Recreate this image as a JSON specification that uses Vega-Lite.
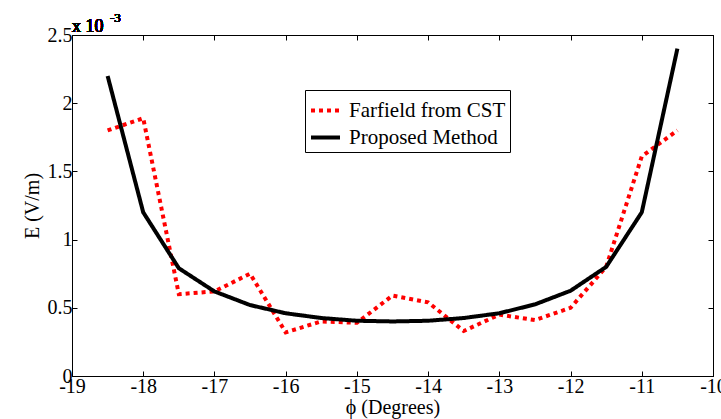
{
  "$schema": "https://vega.github.io/schema/vega-lite/v6.json",
  "width": 641,
  "height": 341,
  "autosize": "none",
  "padding": {"left": 72, "top": 35, "right": 8, "bottom": 43},
  "background": "white",
  "config": {
    "view": {"stroke": "black", "strokeWidth": 1},
    "font": "Liberation Serif",
    "axis": {
      "labelFont": "Liberation Serif",
      "titleFont": "Liberation Serif",
      "labelFontSize": 20,
      "titleFontSize": 20,
      "labelColor": "black",
      "titleColor": "black",
      "titleFontWeight": "normal",
      "domainColor": "black",
      "tickColor": "black",
      "grid": false,
      "tickSize": -5
    }
  },
  "data": {
    "values": [
      {"phi": -18.5, "E": 1.80, "series": "Farfield from CST"},
      {"phi": -18.0, "E": 1.89, "series": "Farfield from CST"},
      {"phi": -17.5, "E": 0.60, "series": "Farfield from CST"},
      {"phi": -17.0, "E": 0.62, "series": "Farfield from CST"},
      {"phi": -16.5, "E": 0.75, "series": "Farfield from CST"},
      {"phi": -16.0, "E": 0.32, "series": "Farfield from CST"},
      {"phi": -15.5, "E": 0.40, "series": "Farfield from CST"},
      {"phi": -15.0, "E": 0.39, "series": "Farfield from CST"},
      {"phi": -14.5, "E": 0.59, "series": "Farfield from CST"},
      {"phi": -14.0, "E": 0.54, "series": "Farfield from CST"},
      {"phi": -13.5, "E": 0.33, "series": "Farfield from CST"},
      {"phi": -13.0, "E": 0.45, "series": "Farfield from CST"},
      {"phi": -12.5, "E": 0.41, "series": "Farfield from CST"},
      {"phi": -12.0, "E": 0.50, "series": "Farfield from CST"},
      {"phi": -11.5, "E": 0.80, "series": "Farfield from CST"},
      {"phi": -11.0, "E": 1.61, "series": "Farfield from CST"},
      {"phi": -10.5, "E": 1.80, "series": "Farfield from CST"},
      {"phi": -18.5, "E": 2.20, "series": "Proposed Method"},
      {"phi": -18.0, "E": 1.20, "series": "Proposed Method"},
      {"phi": -17.5, "E": 0.79, "series": "Proposed Method"},
      {"phi": -17.0, "E": 0.62, "series": "Proposed Method"},
      {"phi": -16.5, "E": 0.52, "series": "Proposed Method"},
      {"phi": -16.0, "E": 0.46, "series": "Proposed Method"},
      {"phi": -15.5, "E": 0.425, "series": "Proposed Method"},
      {"phi": -15.0, "E": 0.405, "series": "Proposed Method"},
      {"phi": -14.5, "E": 0.40, "series": "Proposed Method"},
      {"phi": -14.0, "E": 0.405, "series": "Proposed Method"},
      {"phi": -13.5, "E": 0.425, "series": "Proposed Method"},
      {"phi": -13.0, "E": 0.46, "series": "Proposed Method"},
      {"phi": -12.5, "E": 0.525, "series": "Proposed Method"},
      {"phi": -12.0, "E": 0.625, "series": "Proposed Method"},
      {"phi": -11.5, "E": 0.80, "series": "Proposed Method"},
      {"phi": -11.0, "E": 1.20, "series": "Proposed Method"},
      {"phi": -10.5, "E": 2.40, "series": "Proposed Method"}
    ]
  },
  "resolve": {"axis": {"x": "independent", "y": "independent"}},
  "layer": [
    {
      "mark": {"type": "line", "strokeWidth": 4},
      "encoding": {
        "x": {
          "field": "phi", "type": "quantitative",
          "scale": {"domain": [-19, -10], "nice": false},
          "axis": {"orient": "bottom", "values": [-19,-18,-17,-16,-15,-14,-13,-12,-11,-10], "labelExpr": "'' + datum.value", "title": "ϕ (Degrees)", "titlePadding": 1, "labelPadding": 5, "labelFont": "Liberation Serif", "labelFontSize": 20, "titleFont": "Liberation Serif", "titleFontSize": 20, "labelFlush": false}
        },
        "y": {
          "field": "E", "type": "quantitative",
          "scale": {"domain": [0, 2.5], "nice": false},
          "axis": {"orient": "left", "values": [0, 0.5, 1, 1.5, 2, 2.5], "labelExpr": "'' + datum.value", "title": "E (V/m)", "titlePadding": 5, "labelPadding": 5, "labelFont": "Liberation Serif", "labelFontSize": 20, "titleFont": "Liberation Serif", "titleFontSize": 20, "labelFlush": false}
        },
        "color": {
          "field": "series", "type": "nominal",
          "scale": {"domain": ["Farfield from CST", "Proposed Method"], "range": ["#ff0000", "#000000"]},
          "legend": {
            "title": null,
            "orient": "none",
            "legendX": 233,
            "legendY": 55,
            "strokeColor": "black",
            "fillColor": "white",
            "padding": 4,
            "labelFont": "Liberation Serif",
            "labelFontSize": 21,
            "labelColor": "black",
            "symbolType": "stroke",
            "symbolSize": 841,
            "symbolStrokeWidth": 4,
            "rowPadding": -12,
            "labelOffset": 7,
            "labelLimit": 300
          }
        },
        "strokeDash": {
          "field": "series", "type": "nominal",
          "scale": {"domain": ["Farfield from CST", "Proposed Method"], "range": [[4, 4], [1, 0]]},
          "legend": null
        }
      }
    },
    {
      "mark": {"type": "point", "opacity": 0},
      "encoding": {
        "x": {
          "field": "phi", "type": "quantitative",
          "scale": {"domain": [-19, -10], "nice": false},
          "axis": {"orient": "top", "values": [-19,-18,-17,-16,-15,-14,-13,-12,-11,-10], "labels": false, "title": null}
        },
        "y": {
          "field": "E", "type": "quantitative",
          "scale": {"domain": [0, 2.5], "nice": false},
          "axis": {"orient": "right", "values": [0, 0.5, 1, 1.5, 2, 2.5], "labels": false, "title": null}
        }
      }
    },
    {
      "mark": {"type": "text", "align": "left", "baseline": "alphabetic", "font": "Liberation Serif", "fontWeight": "normal", "fontSize": 18, "dx": 0, "dy": -3, "color": "black"},
      "encoding": {
        "x": {"datum": -19, "type": "quantitative", "axis": null},
        "y": {"datum": 2.5, "type": "quantitative", "axis": null},
        "text": {"value": "x 10"}
      }
    },
    {
      "mark": {"type": "text", "align": "left", "baseline": "alphabetic", "font": "Liberation Serif", "fontWeight": "normal", "fontSize": 13, "dx": 38, "dy": -13, "color": "black"},
      "encoding": {
        "x": {"datum": -19, "type": "quantitative", "axis": null},
        "y": {"datum": 2.5, "type": "quantitative", "axis": null},
        "text": {"value": "-3"}
      }
    }
  ]
}
